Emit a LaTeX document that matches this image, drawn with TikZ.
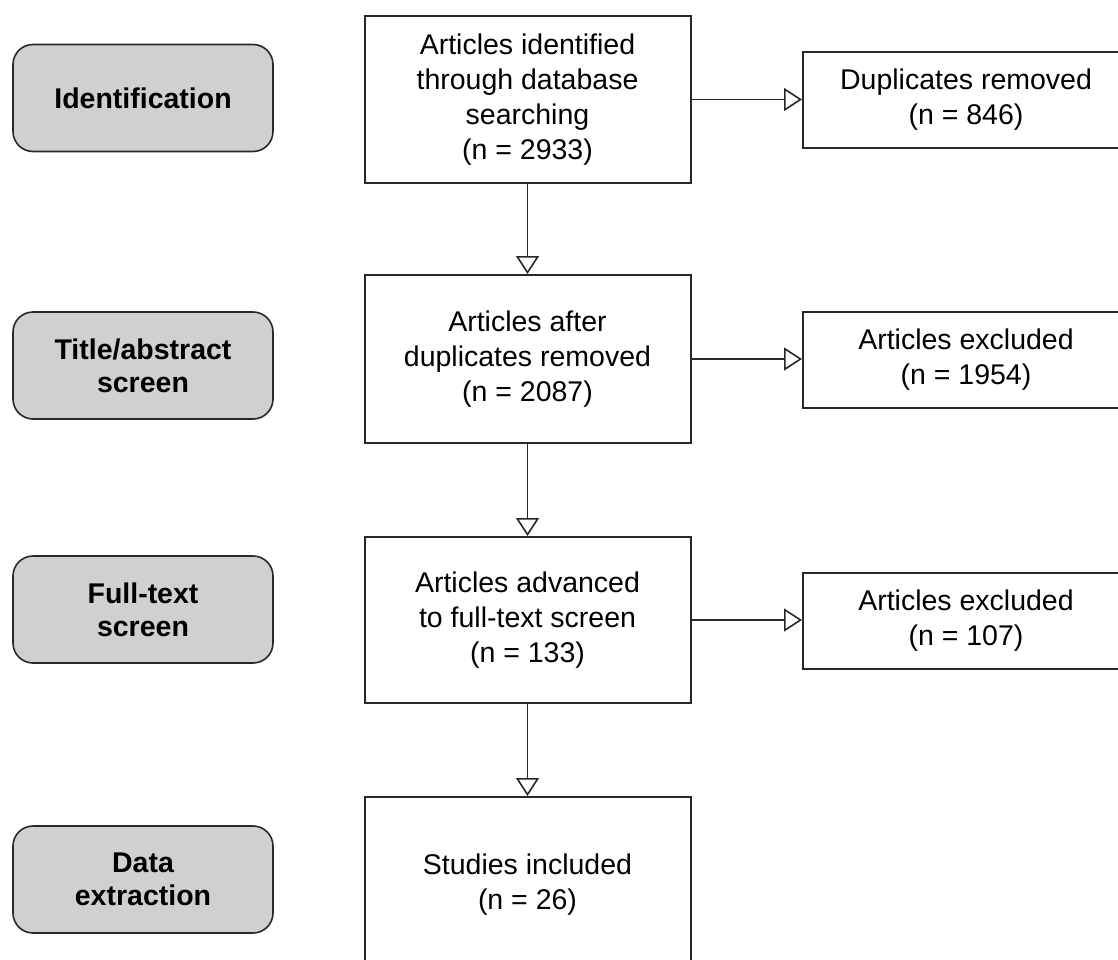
\documentclass[tikz,border=0pt]{standalone}
\usepackage{fontspec}
\setmainfont{Liberation Sans}
\usetikzlibrary{arrows.meta}
\definecolor{stagegray}{RGB}{208,208,208}
\definecolor{edgegray}{RGB}{40,40,40}
\tikzset{
  stagebox/.style={draw=edgegray, line width=1.6pt, fill=stagegray, rounded corners=20pt,
    minimum width=260pt, minimum height=107pt, align=center,
    font=\fontsize{28.5}{33}\selectfont\bfseries, inner sep=0pt},
  flowbox/.style={draw=edgegray, line width=2pt, fill=white, minimum width=326pt,
    align=center, font=\fontsize{28.5}{35}\selectfont, inner sep=0pt},
  sidebox/.style={draw=edgegray, line width=2pt, fill=white, minimum width=326pt,
    minimum height=96pt, align=center, font=\fontsize{28.5}{35}\selectfont, inner sep=0pt},
  flowarrow/.style={draw=edgegray, line width=1.6pt,
    -{Triangle[open, length=18pt, width=23pt, line width=1.6pt]}},
}
\begin{document}
\begin{tikzpicture}[x=1pt, y=-1pt]
\clip (0,0) rectangle (1118,960);
\fill[white] (0,0) rectangle (1118,960);
% stage labels
\node[stagebox] (l1) at (143,98) {Identification};
\node[stagebox] (l2) at (143,365.5) {Title/abstract\\screen};
\node[stagebox] (l3) at (143,609.5) {Full-text\\screen};
\node[stagebox] (l4) at (143,879.5) {Data\\extraction};
% main flow
\node[flowbox, minimum height=167pt] (c1) at (527.5,99.5) {Articles identified\\through database\\searching\\(n = 2933)};
\node[flowbox, minimum height=168pt] (c2) at (527.5,359) {Articles after\\duplicates removed\\(n = 2087)};
\node[flowbox, minimum height=166pt] (c3) at (527.5,620) {Articles advanced\\to full-text screen\\(n = 133)};
\node[flowbox, minimum height=176pt] (c4) at (527.5,885) {Studies included\\(n = 26)};
% side boxes
\node[sidebox] (r1) at (966,100) {Duplicates removed\\(n = 846)};
\node[sidebox] (r2) at (966,360) {Articles excluded\\(n = 1954)};
\node[sidebox] (r3) at (966,620.5) {Articles excluded\\(n = 107)};
% connectors
\draw[flowarrow] (c1) -- (c2);
\draw[flowarrow] (c2) -- (c3);
\draw[flowarrow] (c3) -- (c4);
\draw[flowarrow] (c1.east) -- (r1.west |- c1.east);
\draw[flowarrow] (c2.east) -- (r2.west |- c2.east);
\draw[flowarrow] (c3.east) -- (r3.west |- c3.east);
\end{tikzpicture}
\end{document}
